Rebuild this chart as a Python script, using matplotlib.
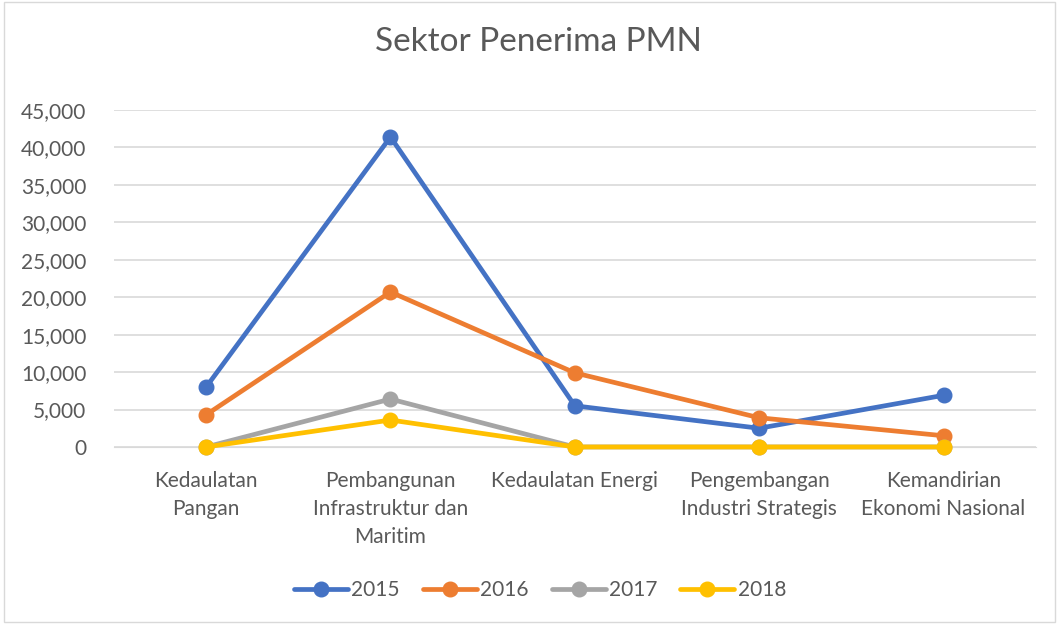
import matplotlib
matplotlib.use("Agg")
import matplotlib.pyplot as plt
from matplotlib.patches import Rectangle
from matplotlib.ticker import FuncFormatter

categories = ["Kedaulatan\nPangan", "Pembangunan\nInfrastruktur dan\nMaritim", "Kedaulatan Energi",
              "Pengembangan\nIndustri Strategis", "Kemandirian\nEkonomi Nasional"]
series_names = ["2015", "2016", "2017", "2018"]
values_2015 = [8000, 41400, 5500, 2500, 6900]
values_2016 = [4300, 20700, 9900, 3900, 1500]
values_2017 = [0, 6400, 0, 0, 0]
values_2018 = [0, 3600, 0, 0, 0]
colors = ["#4472C4", "#ED7D31", "#A5A5A5", "#FFC000"]

plt.rcParams['font.family'] = ['Lato', 'DejaVu Sans']
txt = "#595959"
fs = 15

fig = plt.figure(figsize=(10.59, 6.24), dpi=100)
fig.patches.append(Rectangle((0.004, 0.004), 0.992, 0.992, transform=fig.transFigure,
                             fill=False, edgecolor="#D9D9D9", linewidth=1))
ax = fig.add_axes([0.1076, 0.2837, 0.8704, 0.54])

x = list(range(len(categories)))
for name, vals, c in zip(series_names, [values_2015, values_2016, values_2017, values_2018], colors):
    ax.plot(x, vals, color=c, linewidth=3.4, marker="o", markersize=10.5, label=name,
            solid_capstyle="round", solid_joinstyle="round", zorder=3, clip_on=False)

ax.set_xlim(-0.5, len(categories) - 0.5)
ax.set_ylim(0, 45000)
ax.set_yticks(range(0, 45001, 5000))
ax.yaxis.set_major_formatter(FuncFormatter(lambda v, p: f"{int(v):,}"))
ax.set_xticks(x)
ax.set_xticklabels(categories, fontsize=fs, color=txt, linespacing=1.5)
ax.tick_params(axis="y", labelsize=fs, colors=txt, length=0, pad=20)
ax.tick_params(axis="x", length=0, pad=17)
ax.grid(axis="y", color="#D9D9D9", linewidth=1.2)
ax.set_axisbelow(True)
for s in ax.spines.values():
    s.set_visible(False)
ax.spines["bottom"].set_visible(True)
ax.spines["bottom"].set_color("#D9D9D9")

fig.text(0.508, 0.932, "Sektor Penerima PMN", ha="center", va="center", fontsize=24, color=txt)

leg = fig.legend(loc="center", bbox_to_anchor=(0.51, 0.054), ncol=4, frameon=False,
                 fontsize=fs, handlelength=2.6, columnspacing=1.1, handletextpad=0.15)
for t in leg.get_texts():
    t.set_color(txt)

fig.savefig("out.png", dpi=100)
